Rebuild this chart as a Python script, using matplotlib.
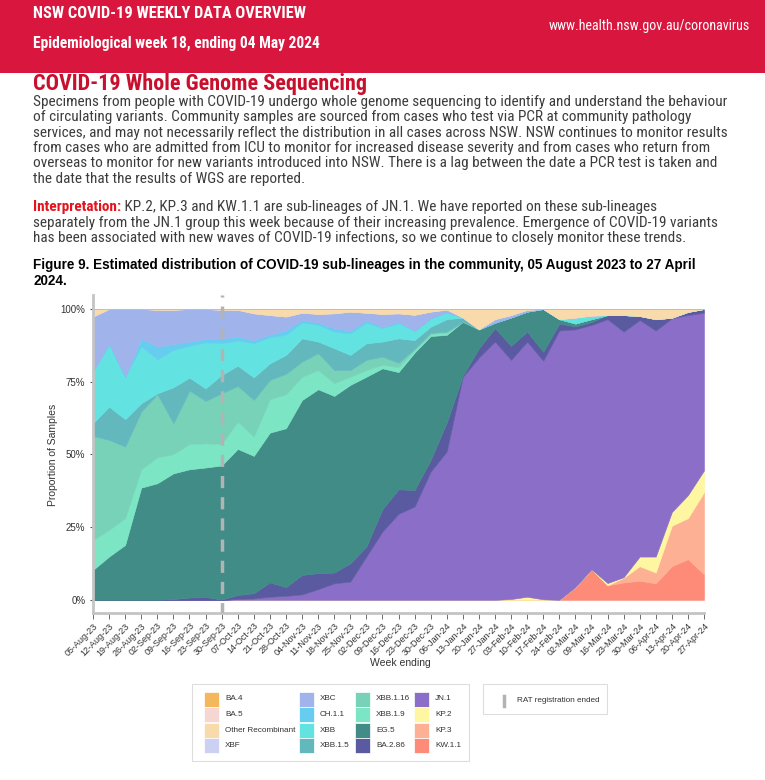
import matplotlib
matplotlib.use('Agg')
import matplotlib.pyplot as plt
import numpy as np
from matplotlib import font_manager
from matplotlib.patches import Rectangle
from matplotlib.lines import Line2D

W, H = 765, 780

weeks = ['05-Aug-23', '12-Aug-23', '19-Aug-23', '26-Aug-23', '02-Sep-23', '09-Sep-23',
         '16-Sep-23', '23-Sep-23', '30-Sep-23', '07-Oct-23', '14-Oct-23', '21-Oct-23',
         '28-Oct-23', '04-Nov-23', '11-Nov-23', '18-Nov-23', '25-Nov-23', '02-Dec-23',
         '09-Dec-23', '16-Dec-23', '23-Dec-23', '30-Dec-23', '06-Jan-24', '13-Jan-24',
         '20-Jan-24', '27-Jan-24', '03-Feb-24', '10-Feb-24', '17-Feb-24', '24-Feb-24',
         '02-Mar-24', '09-Mar-24', '16-Mar-24', '23-Mar-24', '30-Mar-24', '06-Apr-24',
         '13-Apr-24', '20-Apr-24', '27-Apr-24']

# proportion of samples (%) per week, one list per lineage
kw_1_1 = [0, 0, 0, 0, 0, 0, 0, 0, 0, 0, 0, 0, 0, 0, 0, 0, 0, 0, 0, 0,
          0, 0, 0, 0, 0, 0, 0, 0, 0, 0, 4.4, 10.5, 5.0, 6.0, 6.6, 5.7, 11.6, 14.0, 8.8]
kp_3 = [0, 0, 0, 0, 0, 0, 0, 0, 0, 0, 0, 0, 0, 0, 0, 0, 0, 0, 0, 0,
        0, 0, 0, 0, 0, 0, 0, 0, 0, 0, 0, 0, 0, 1.6, 5.0, 3.7, 13.9, 14.1, 28.2]
kp_2 = [0, 0, 0, 0, 0, 0, 0, 0, 0, 0, 0, 0, 0, 0, 0, 0, 0, 0, 0, 0,
        0, 0, 0, 0, 0, 0, 0.3, 1.1, 0.2, 0, 0, 0, 0.8, 0.2, 3.3, 5.5, 4.7, 7.9, 7.5]
jn_1 = [0, 0, 0, 0, 0, 0, 0, 0, 0, 0.3, 0.5, 1.1, 1.4, 1.9, 3.7, 5.7, 6.3, 14.9, 23.5, 29.6,
        32.1, 44.1, 51.0, 76.7, 83.3, 88.8, 82.2, 87.7, 82.0, 92.6, 88.6, 84.0, 90.7, 84.4,
        81.3, 77.7, 66.6, 61.9, 54.2]
ba_2_86 = [0, 0, 0, 0, 0, 0.3, 0.8, 1.0, 0.1, 1.4, 1.8, 4.9, 3.0, 6.7, 5.5, 3.7, 6.3, 3.4, 7.7,
           8.4, 5.7, 4.0, 10.0, 0.3, 3.2, 4.6, 4.8, 3.4, 3.1, 2.4, 1.0, 1.0, 1.4, 5.7, 1.4, 3.9,
           0.2, 1.1, 1.3]
eg_5 = [10.3, 14.9, 18.9, 38.6, 40.1, 43.2, 44.1, 44.5, 46.1, 50.2, 47.2, 51.5, 54.6, 60.1,
        63.2, 60.7, 61.3, 58.4, 48.4, 40.3, 47.2, 42.6, 30.1, 18.6, 6.5, 1.9, 9.8, 6.9, 14.7,
        1.5, 1.0, 1.0, 0, 0, 0, 0, 0, 0, 0]
xbb_1_9 = [10.3, 9.2, 9.2, 6.3, 8.9, 6.6, 8.7, 8.3, 7.4, 9.4, 6.6, 11.5, 11.7, 8.0, 6.6, 4.4,
           2.8, 2.3, 1.2, 1.7, 0.9, 0.7, 0.7, 0, 0, 0, 0, 0, 0, 0, 0, 0, 0, 0, 0, 0, 0, 0, 0]
xbb_1_16 = [35.8, 30.9, 24.6, 19.8, 21.7, 10.6, 18.3, 14.6, 17.4, 12.2, 12.6, 6.6, 7.0, 5.2,
            5.8, 4.5, 2.3, 3.5, 2.8, 1.5, 0.4, 0.4, 0.4, 0, 0, 0, 0, 0, 0, 0, 0, 0, 0, 0, 0,
            0, 0, 0, 0]
xbb_1_5 = [4.3, 11.4, 9.4, 2.9, 0.3, 12.4, 4.5, 4.3, 6.3, 7.0, 7.8, 5.7, 6.5, 8.0, 4.0, 7.5,
           5.2, 5.7, 5.2, 8.4, 3.0, 2.1, 4.3, 1.4, 0, 0, 0, 0, 0, 0, 0, 0, 0, 0, 0, 0, 0, 0, 0]
xbb = [17.8, 21.2, 14.6, 19.5, 11.7, 12.8, 10.9, 15.8, 10.9, 8.6, 11.7, 9.0, 6.9, 5.4, 5.7,
       5.7, 7.4, 7.1, 4.6, 5.2, 3.2, 2.9, 2.4, 0, 0, 0, 0, 0, 0, 0, 2.0, 1.2, 0, 0, 0, 0,
       0, 0, 0]
ch_1_1 = [0, 0.6, 0, 2.8, 4.4, 2.0, 1.5, 1.2, 1.7, 1.4, 1.1, 0.8, 1.7, 0.9, 0.8, 1.2, 1.0, 0.7,
          0.5, 0.5, 0, 0, 0, 0, 0, 0, 0, 0, 0, 0, 0, 0, 0, 0, 0, 0, 0, 0, 0]
xbc = [18.9, 11.8, 23.3, 10.1, 12.6, 11.8, 11.2, 10.3, 9.8, 9.2, 9.2, 6.8, 4.6, 2.5, 3.0, 5.1,
       6.5, 2.7, 4.4, 2.9, 5.5, 2.3, 0.9, 0, 0, 1.2, 0.8, 0.6, 0, 0, 0, 0, 0, 0, 0, 0, 0, 0, 0]
xbf = [0, 0, 0, 0, 0, 0, 0, 0, 0, 0, 0, 0, 0, 0, 0, 0, 0, 0, 0, 0,
       0, 0, 0, 0, 0, 0, 0, 0, 0, 0, 0, 0, 0, 0, 0, 0, 0, 0, 0]
other_rec = [2.6, 0, 0, 0, 0.3, 0.3, 0, 0, 0.3, 0.3, 1.5, 2.1, 2.6, 1.3, 1.7, 1.5, 0.9, 1.3,
             1.7, 1.5, 2.0, 0.9, 0.2, 3.0, 7.0, 3.5, 2.1, 0.3, 0, 3.5, 3.0, 2.3, 2.1, 2.1,
             2.4, 3.5, 3.0, 1.0, 0]
ba_5 = [0, 0, 0, 0, 0, 0, 0, 0, 0, 0, 0, 0, 0, 0, 0, 0, 0, 0, 0, 0,
        0, 0, 0, 0, 0, 0, 0, 0, 0, 0, 0, 0, 0, 0, 0, 0, 0, 0, 0]
ba_4 = [0, 0, 0, 0, 0, 0, 0, 0, 0, 0, 0, 0, 0, 0, 0, 0, 0, 0, 0, 0,
        0, 0, 0, 0, 0, 0, 0, 0, 0, 0, 0, 0, 0, 0, 0, 0, 0, 0, 0]

rat_week = '30-Sep-23'

# legend order (top of stack first)
lineages = ['BA.4', 'BA.5', 'Other Recombinant', 'XBF', 'XBC', 'CH.1.1', 'XBB', 'XBB.1.5',
            'XBB.1.16', 'XBB.1.9', 'EG.5', 'BA.2.86', 'JN.1', 'KP.2', 'KP.3', 'KW.1.1']
series = [ba_4, ba_5, other_rec, xbf, xbc, ch_1_1, xbb, xbb_1_5,
          xbb_1_16, xbb_1_9, eg_5, ba_2_86, jn_1, kp_2, kp_3, kw_1_1]
colors = ['#f5b75c', '#f6d6d0', '#f9dbab', '#ccd0f2', '#a0b3eb', '#66cdf0', '#62e3e1', '#63b8be',
          '#78d2b8', '#7ce6c4', '#418c87', '#5a5aa0', '#8a6ec8', '#fef6a0', '#feb094', '#fe8a78']

# page text is set in a narrow face; take whatever condensed sans is around
fonts = font_manager.fontManager.ttflist
names = {f.name for f in fonts}
doc = {'family': 'Roboto', 'fontstretch': 'normal'}
for cand in ['Liberation Sans Narrow', 'Arial Narrow', 'Roboto Condensed', 'Noto Sans Condensed',
             'Open Sans Condensed']:
    if cand in names:
        doc = {'family': cand, 'fontstretch': 'normal'}
        break
else:
    for fam in ['Noto Sans', 'Open Sans', 'DejaVu Sans']:
        if any(f.name == fam and f.stretch in ('condensed', 'semi-condensed') for f in fonts):
            doc = {'family': fam, 'fontstretch': 'condensed'}
            break
plt.rcParams['font.family'] = ['Liberation Sans', 'DejaVu Sans']


def fx(px):
    return px / W


def fy(py):
    return 1 - py / H


fig = plt.figure(figsize=(W / 100, H / 100), dpi=100)
fig.add_artist(Rectangle((0, fy(73)), 1, 73 / H, transform=fig.transFigure,
                         color='#d9163e', lw=0, zorder=0))

# ---- chart
ax = fig.add_axes([fx(93), fy(613), fx(704) - fx(93), (613 - 295) / H])
x = np.arange(len(weeks))
ax.stackplot(x, series[::-1], colors=colors[::-1], lw=0.4, edgecolor='face')
ax.set_xlim(0, len(weeks) - 1)
ax.set_ylim(-4.5, 104.8)
ax.axvline(weeks.index(rat_week), color='#b3b3b3', lw=2.5, ls=(0.5, (3.5, 2.6)), zorder=5)

ax.set_yticks([0, 25, 50, 75, 100])
ax.set_yticklabels(['0%', '25%', '50%', '75%', '100%'])
ax.set_xticks(x)
ax.set_xticklabels(weeks, rotation=45, ha='right', rotation_mode='anchor')
ax.tick_params(axis='y', length=2.5, width=0.8, color='#555555', labelsize=7,
               labelcolor='#333333', pad=3)
ax.tick_params(axis='x', length=4, width=0.6, color='#555555', labelsize=6.5,
               labelcolor='#333333', pad=2)
for s in ['top', 'right']:
    ax.spines[s].set_visible(False)
for s in ['left', 'bottom']:
    ax.spines[s].set_color('#c4c4c4')
    ax.spines[s].set_linewidth(2)

fig.text(fx(53), fy(455), 'Proportion of Samples', rotation=90, ha='center', va='center',
         fontsize=7.5, color='#333333')
fig.text(fx(400), fy(663), 'Week ending', ha='center', va='center', fontsize=7.5,
         color='#333333')

# ---- legends
fig.add_artist(Rectangle((fx(192), fy(761)), fx(469) - fx(192), (761 - 684) / H,
                         transform=fig.transFigure, fill=False, ec='#dddddd', lw=0.8))
col_x = [204, 299, 355, 414]
row_y = [699, 714.5, 730, 745.5]
for k, (name, c) in enumerate(zip(lineages, colors)):
    cx = col_x[k // 4]
    ry = row_y[k % 4]
    fig.add_artist(Rectangle((fx(cx), fy(ry + 7.5)), 15 / W, 15 / H, transform=fig.transFigure,
                             fc=c, ec='white', lw=0.5))
    fig.text(fx(cx + 21), fy(ry), name, ha='left', va='center', fontsize=5.9, color='#333333')

fig.add_artist(Rectangle((fx(483), fy(714)), fx(607) - fx(483), 30 / H,
                         transform=fig.transFigure, fill=False, ec='#dddddd', lw=0.8))
fig.add_artist(Line2D([fx(503.5), fx(503.5)], [fy(696), fy(706)], transform=fig.transFigure,
                      color='#b3b3b3', lw=2.5))
fig.text(fx(517), fy(700), 'RAT registration ended', ha='left', va='center', fontsize=5.9,
         color='#333333')

# ---- page text
fig.canvas.draw()
r = fig.canvas.get_renderer()


def fit(t, width):
    w = t.get_window_extent(r).width
    t.set_fontsize(t.get_fontsize() * width / w)
    return t.get_fontsize()


t = fig.text(fx(33), fy(14), 'NSW COVID-19 WEEKLY DATA OVERVIEW', color='white',
             fontweight='bold', fontsize=10, va='center', **doc)
fit(t, 274)
t = fig.text(fx(33), fy(43), 'Epidemiological week 18, ending 04 May 2024', color='white',
             fontweight='bold', fontsize=10, va='center', **doc)
fit(t, 289)
t = fig.text(fx(750), fy(26), 'www.health.nsw.gov.au/coronavirus', color='white',
             fontsize=10, va='center', ha='right', **doc)
fit(t, 202)
t = fig.text(fx(33), fy(84), 'COVID-19 Whole Genome Sequencing', color='#c8102e',
             fontweight='bold', fontsize=14, va='center', **doc)
fit(t, 335)

para = ['Specimens from people with COVID-19 undergo whole genome sequencing to identify and understand the behaviour',
        'of circulating variants. Community samples are sourced from cases who test via PCR at community pathology',
        'services, and may not necessarily reflect the distribution in all cases across NSW. NSW continues to monitor results',
        'from cases who are admitted from ICU to monitor for increased disease severity and from cases who return from',
        'overseas to monitor for new variants introduced into NSW. There is a lag between the date a PCR test is taken and',
        'the date that the results of WGS are reported.']
para_y = [102, 117.3, 132.6, 147.9, 163.2, 178.5]
t = fig.text(fx(33), fy(para_y[0]), para[0], color='#3c3c3c', fontsize=10, va='center', **doc)
ps = fit(t, 692)
for line, yy in zip(para[1:], para_y[1:]):
    fig.text(fx(33), fy(yy), line, color='#3c3c3c', fontsize=ps, va='center', **doc)

t = fig.text(fx(33), fy(207), 'Interpretation:', color='#e3141e', fontweight='bold',
             fontsize=ps, va='center', **doc)
bx = t.get_window_extent(r).x1
fig.text(bx / W, fy(207), ' KP.2, KP.3 and KW.1.1 are sub-lineages of JN.1. We have reported on these sub-lineages',
         color='#3c3c3c', fontsize=ps, va='center', **doc)
interp = ['separately from the JN.1 group this week because of their increasing prevalence. Emergence of COVID-19 variants',
          'has been associated with new waves of COVID-19 infections, so we continue to closely monitor these trends.']
for line, yy in zip(interp, [222.5, 238]):
    fig.text(fx(33), fy(yy), line, color='#3c3c3c', fontsize=ps, va='center', **doc)

t = fig.text(fx(33), fy(265), 'Figure 9. Estimated distribution of COVID-19 sub-lineages in the community, 05 August 2023 to 27 April',
             color='black', fontweight='bold', fontsize=9, va='center')
cs = fit(t, 664)
fig.text(fx(33), fy(281), '2024.', color='black', fontweight='bold', fontsize=cs, va='center')

fig.savefig('out.png', dpi=100)
